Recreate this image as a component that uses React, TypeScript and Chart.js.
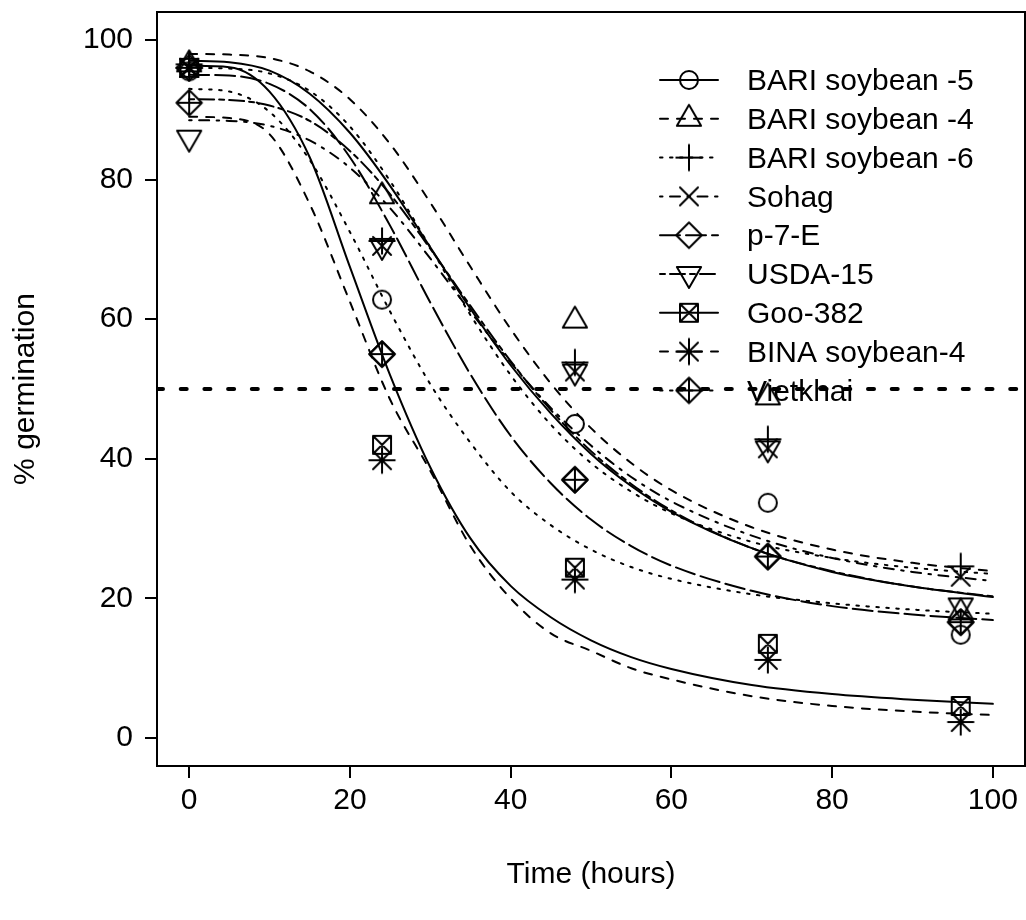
import React, { useEffect, useRef } from "react";
import { Chart, registerables } from "chart.js";

Chart.register(...registerables);

// ---------- data ----------
const seriesNames = [
  "BARI soybean -5",
  "BARI soybean -4",
  "BARI soybean -6",
  "Sohag",
  "p-7-E",
  "USDA-15",
  "Goo-382",
  "BINA soybean-4",
  "Vietkhai",
];

// x positions where the fitted curves were read
const curveX = [0, 5, 10, 15, 20, 25, 30, 35, 40, 45, 50, 55, 60, 70, 80, 90, 100];
// observation times (hours)
const obsX = [0, 24, 48, 72, 96];

const xTicks = [0, 20, 40, 60, 80, 100];
const yTicks = [0, 20, 40, 60, 80, 100];
const refLineValue = 50;

// fitted curves
const fitBARI5 = [97, 96.8, 95.6, 92.3, 86.7, 79.1, 70.3, 61.5, 53.4, 46.5, 40.7, 36.1, 32.4, 27.2, 23.8, 21.7, 20.2];
const fitBARI4 = [98, 97.9, 97.4, 95.5, 91.5, 85.1, 76.7, 67.5, 58.6, 50.8, 44.4, 39.4, 35.5, 30.2, 27.0, 25.1, 23.9];
const fitBARI6 = [96, 95.9, 95.2, 92.7, 87.6, 79.8, 70.3, 60.6, 52, 44.9, 39.4, 35.3, 32.2, 28.1, 25.8, 24.4, 23.5];
const fitSohag = [88.5, 88.4, 87.7, 85.6, 81.7, 75.9, 68.7, 61.1, 53.8, 47.3, 41.9, 37.4, 33.9, 29, 25.8, 23.8, 22.5];
const fitP7E = [95, 94.9, 93.7, 90.1, 83.2, 73.4, 62.4, 52.1, 43.3, 36.5, 31.3, 27.5, 24.7, 21.1, 18.9, 17.7, 16.9];
const fitUSDA = [91.5, 91.4, 90.6, 88.4, 84.1, 77.9, 70.1, 61.9, 54, 47, 41.1, 36.4, 32.6, 27.2, 23.9, 21.7, 20.3];
const fitGoo = [96.3, 96.1, 92.6, 83.2, 67.5, 52, 38.8, 28.6, 21.8, 17.3, 14, 11.6, 9.9, 7.6, 6.3, 5.5, 4.9];
const fitBINA = [89, 88.8, 86.5, 76.5, 62.5, 48.5, 38.3, 27.5, 20, 15, 12.5, 10, 8.4, 6.0, 4.6, 3.8, 3.3];
const fitViet = [93, 92.6, 89.7, 82.8, 72.5, 61.1, 50.7, 42.3, 35.3, 30.5, 27, 24.5, 22.8, 20.6, 19.3, 18.4, 17.8];

// observed germination (%)
const obsBARI5 = [95.5, 62.8, 45, 33.7, 14.8];
const obsBARI4 = [96.5, 77.6, 59.8, 48.8, 18];
const obsBARI6 = [96.5, 71.2, 53.8, 42.8, 24.6];
const obsSohag = [96, 70.5, 52.5, 41.5, 23.1];
const obsP7E = [96, 55, 37, 26, 16.6];
const obsUSDA = [86, 70.5, 52.5, 41.5, 19];
const obsGoo = [96, 42, 24.4, 13.5, 4.6];
const obsBINA = [96, 39.8, 22.7, 11.2, 2.3];
const obsViet = [91, 55, 37, 26, 16.6];

const fits = [fitBARI5, fitBARI4, fitBARI6, fitSohag, fitP7E, fitUSDA, fitGoo, fitBINA, fitViet];
const obs = [obsBARI5, obsBARI4, obsBARI6, obsSohag, obsP7E, obsUSDA, obsGoo, obsBINA, obsViet];
// R plotting symbols and line types per series
const pchs = [1, 2, 3, 4, 5, 6, 7, 8, 9];
const ltys = [1, 2, 3, 4, 5, 6, 1, 2, 3];

// ---------- styling ----------
const FONT = "'Liberation Sans', Arial, sans-serif";
const R = 9;
const LTY_DASH: Record<number, number[]> = {
  1: [],
  2: [8, 9],
  3: [2.5, 7.5],
  4: [2.5, 7.5, 10, 7.5],
  5: [20, 6],
  6: [5, 5, 15, 5],
};

function drawPch(g: CanvasRenderingContext2D, pch: number, cx: number, cy: number, r: number) {
  const s2 = Math.SQRT2 * r;
  g.beginPath();
  const plus = (h: number) => {
    g.moveTo(cx - h, cy); g.lineTo(cx + h, cy);
    g.moveTo(cx, cy - h); g.lineTo(cx, cy + h);
  };
  const times = (h: number) => {
    g.moveTo(cx - h, cy - h); g.lineTo(cx + h, cy + h);
    g.moveTo(cx - h, cy + h); g.lineTo(cx + h, cy - h);
  };
  const diamond = (h: number) => {
    g.moveTo(cx, cy - h); g.lineTo(cx + h, cy); g.lineTo(cx, cy + h); g.lineTo(cx - h, cy); g.closePath();
  };
  switch (pch) {
    case 1:
      g.arc(cx, cy, r, 0, Math.PI * 2);
      break;
    case 2:
      g.moveTo(cx, cy - 1.555 * r);
      g.lineTo(cx + 1.347 * r, cy + 0.778 * r);
      g.lineTo(cx - 1.347 * r, cy + 0.778 * r);
      g.closePath();
      break;
    case 3:
      plus(s2);
      break;
    case 4:
      times(r);
      break;
    case 5:
      diamond(s2);
      break;
    case 6:
      g.moveTo(cx, cy + 1.555 * r);
      g.lineTo(cx + 1.347 * r, cy - 0.778 * r);
      g.lineTo(cx - 1.347 * r, cy - 0.778 * r);
      g.closePath();
      break;
    case 7:
      g.rect(cx - r, cy - r, 2 * r, 2 * r);
      times(r);
      break;
    case 8:
      times(r);
      plus(s2);
      break;
    case 9:
      diamond(s2);
      plus(s2);
      break;
  }
  g.stroke();
}

function makeMarker(pch: number): HTMLCanvasElement {
  const S = 36;
  const c = document.createElement("canvas");
  c.width = S;
  c.height = S;
  const g = c.getContext("2d")!;
  g.strokeStyle = "#000";
  g.lineWidth = 2;
  g.lineCap = "round";
  g.lineJoin = "round";
  drawPch(g, pch, S / 2, S / 2, R);
  return c;
}

const zeroPad = (s: any) => {
  s.paddingTop = 0;
  s.paddingBottom = 0;
  s.paddingLeft = 0;
  s.paddingRight = 0;
};

export default function App() {
  const ref = useRef<HTMLCanvasElement | null>(null);

  useEffect(() => {
    if (!ref.current) return;
    const markers = pchs.map((p) => makeMarker(p));

    const datasets: any[] = [];
    fits.forEach((f, i) => {
      datasets.push({
        label: seriesNames[i] + " fit",
        data: curveX.map((x, k) => ({ x, y: f[k] })),
        showLine: true,
        pointRadius: 0,
        borderColor: "#000",
        borderWidth: 2,
        borderDash: LTY_DASH[ltys[i]],
        borderCapStyle: "round",
        cubicInterpolationMode: "monotone",
        fill: false,
      });
    });
    obs.forEach((o, i) => {
      datasets.push({
        label: seriesNames[i],
        data: obsX.map((x, k) => ({ x, y: o[k] })),
        showLine: false,
        pointRadius: 9,
        pointStyle: markers[i],
        borderColor: "#000",
        backgroundColor: "#000",
      });
    });

    const decor = {
      id: "rdecor",
      afterDatasetsDraw(chart: any) {
        const { ctx, chartArea: a, scales } = chart;
        ctx.save();
        // legend
        const x0 = 660, x1 = 718, tx = 747, y0 = 80, step = 38.8;
        seriesNames.forEach((name, i) => {
          const y = y0 + step * i;
          ctx.strokeStyle = "#000";
          ctx.lineWidth = 2;
          ctx.lineCap = "round";
          ctx.setLineDash(LTY_DASH[ltys[i]]);
          ctx.beginPath();
          ctx.moveTo(x0, y);
          ctx.lineTo(x1, y);
          ctx.stroke();
          ctx.setLineDash([]);
          const m = markers[i];
          ctx.drawImage(m, (x0 + x1) / 2 - m.width / 2, y - m.height / 2);
          ctx.fillStyle = "#000";
          ctx.font = `30px ${FONT}`;
          ctx.textAlign = "left";
          ctx.textBaseline = "middle";
          ctx.fillText(name, tx, y + 2);
        });
        // reference line
        const yy = scales.y.getPixelForValue(refLineValue);
        ctx.beginPath();
        ctx.rect(a.left, a.top, a.right - a.left, a.bottom - a.top);
        ctx.clip();
        ctx.strokeStyle = "#000";
        ctx.lineWidth = 4;
        ctx.lineCap = "round";
        ctx.setLineDash([6, 17.7]);
        ctx.beginPath();
        ctx.moveTo(a.left, yy);
        ctx.lineTo(a.right, yy);
        ctx.stroke();
        ctx.restore();
        // box
        ctx.save();
        ctx.strokeStyle = "#000";
        ctx.lineWidth = 2;
        ctx.setLineDash([]);
        ctx.strokeRect(a.left, a.top, a.right - a.left, a.bottom - a.top);
        ctx.restore();
      },
    };

    const tickFont = { family: FONT, size: 30 };
    const chart = new Chart(ref.current, {
      type: "scatter",
      data: { datasets },
      options: {
        responsive: false,
        animation: false,
        layout: { autoPadding: false, padding: { top: 12, right: 1, left: 0, bottom: 0 } },
        plugins: { legend: { display: false }, tooltip: { enabled: false } },
        scales: {
          x: {
            type: "linear",
            min: -4,
            max: 104,
            afterBuildTicks: (s: any) => {
              s.ticks = xTicks.map((v) => ({ value: v }));
            },
            afterFit: (s: any) => {
              s.height = 154;
              zeroPad(s);
            },
            grid: { drawOnChartArea: false, drawTicks: true, tickLength: 12, lineWidth: 2, color: "#000" },
            border: { display: true, width: 2, color: "#000" },
            ticks: { font: tickFont, color: "#000", padding: 5, maxRotation: 0, autoSkip: false },
            title: { display: true, text: "Time (hours)", font: tickFont, color: "#000", padding: { top: 0, bottom: 27 } },
          },
          y: {
            type: "linear",
            min: -4,
            max: 104,
            afterBuildTicks: (s: any) => {
              s.ticks = yTicks.map((v) => ({ value: v }));
            },
            afterFit: (s: any) => {
              s.width = 157;
              zeroPad(s);
            },
            grid: { drawOnChartArea: false, drawTicks: true, tickLength: 12, lineWidth: 2, color: "#000" },
            border: { display: true, width: 2, color: "#000" },
            ticks: { font: tickFont, color: "#000", padding: 12, autoSkip: false },
            title: { display: true, text: "% germination", font: tickFont, color: "#000", padding: { top: 8, bottom: 0 } },
          },
        },
      },
      plugins: [decor],
    } as any);
    return () => chart.destroy();
  }, []);

  return (
    <div style={{ position: "absolute", left: 0, top: 0, width: 1026, height: 920, background: "#fff" }}>
      <canvas ref={ref} width={1026} height={920} style={{ width: 1026, height: 920, display: "block" }} />
    </div>
  );
}
